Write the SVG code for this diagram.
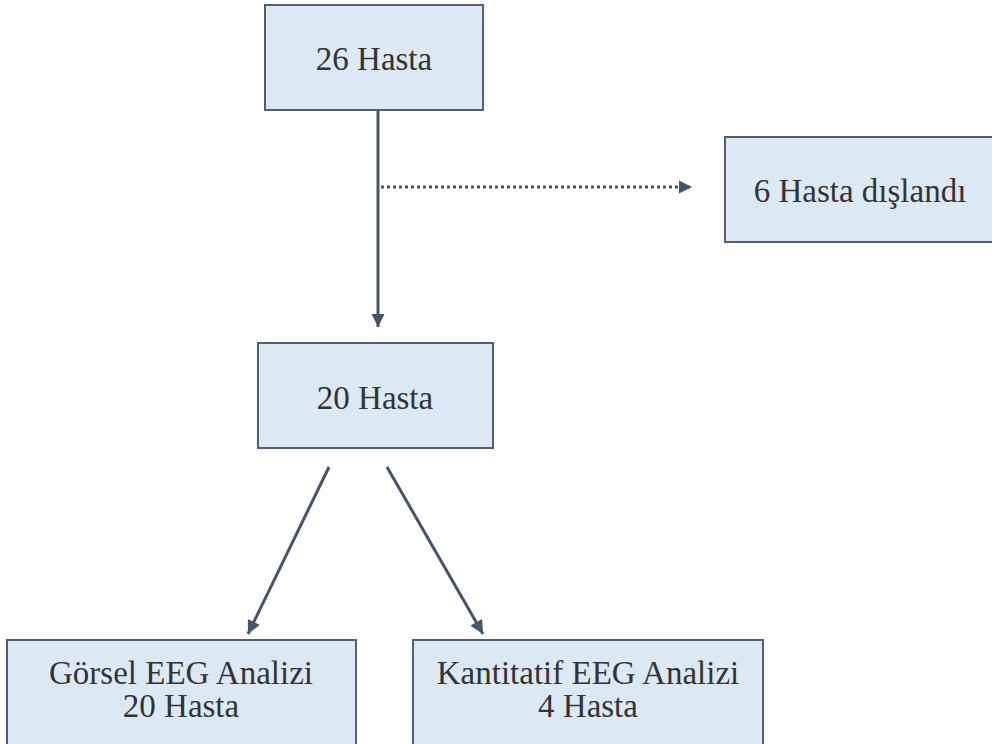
<svg xmlns="http://www.w3.org/2000/svg" width="992" height="744" viewBox="0 0 992 744">
<style>
.box{fill:#dde8f5;stroke:#4f5f76;stroke-width:2}
.t{font-family:"Liberation Serif","DejaVu Serif",serif;font-size:33px;fill:#333;text-anchor:middle}
.c{stroke:#44546a;stroke-width:3;fill:none}
.d{stroke:#44546a;stroke-width:3;fill:none;stroke-dasharray:3 3}
</style>
<defs>
<marker id="ah" viewBox="0 0 10 10" refX="10" refY="5" markerWidth="4.5" markerHeight="4.5" orient="auto" markerUnits="strokeWidth">
<path d="M0,0 L10,5 L0,10 z" fill="#44546a"/>
</marker>
</defs>
<rect width="992" height="744" fill="#fff"/>
<g id="connectors">
<line class="c" x1="378" y1="110" x2="378" y2="327" marker-end="url(#ah)"/>
<line class="d" x1="381" y1="187" x2="692" y2="187" marker-end="url(#ah)"/>
<line class="c" x1="329" y1="467" x2="248" y2="634" marker-end="url(#ah)"/>
<line class="c" x1="387" y1="467" x2="483" y2="634" marker-end="url(#ah)"/>
</g>
<g id="n26">
<rect class="box" x="265" y="5" width="218" height="105"/>
<text class="t" x="374" y="70">26 Hasta</text>
</g>
<g id="n6">
<rect class="box" x="725" y="137" width="270" height="105"/>
<text class="t" x="860" y="202">6 Hasta dışlandı</text>
</g>
<g id="n20">
<rect class="box" x="258" y="343" width="235" height="105"/>
<text class="t" x="375" y="409">20 Hasta</text>
</g>
<g id="gorsel">
<rect class="box" x="7" y="640" width="349" height="110"/>
<text class="t" x="181" y="684">Görsel EEG Analizi</text>
<text class="t" x="181" y="717">20 Hasta</text>
</g>
<g id="kantitatif">
<rect class="box" x="413" y="640" width="350" height="110"/>
<text class="t" x="588" y="684">Kantitatif EEG Analizi</text>
<text class="t" x="588" y="717">4 Hasta</text>
</g>
</svg>
